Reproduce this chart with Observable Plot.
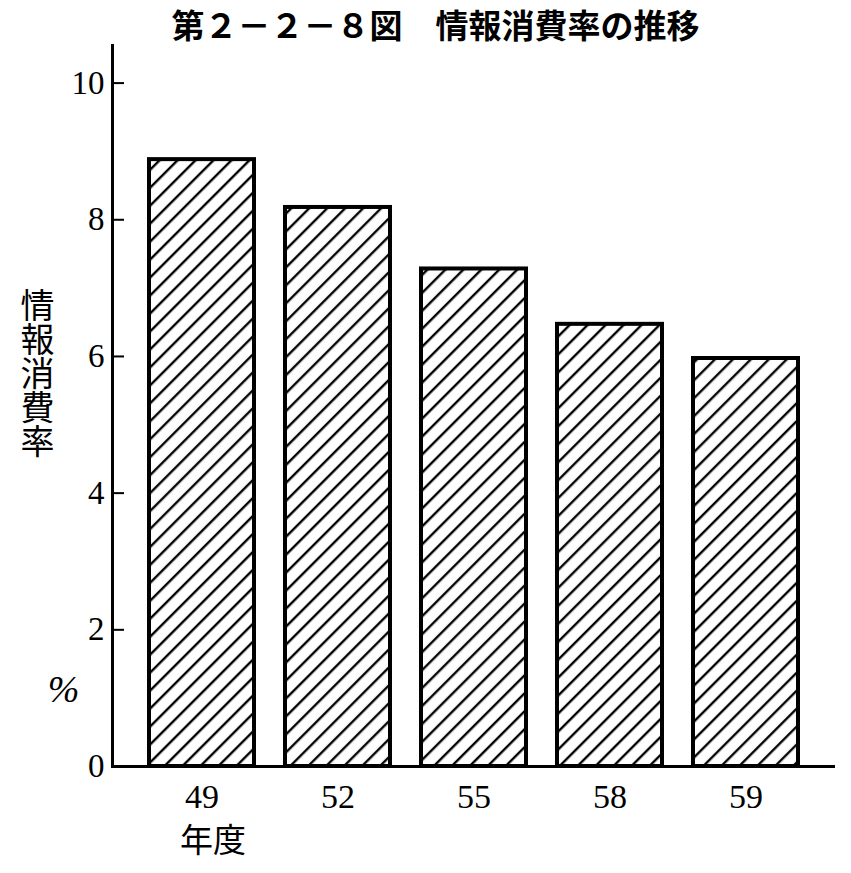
<!DOCTYPE html>
<html>
<head>
<meta charset="utf-8">
<script src="https://cdn.jsdelivr.net/npm/d3@7"></script>
<script src="https://cdn.jsdelivr.net/npm/@observablehq/plot@0.6"></script>
<style>
  body { margin: 0; background: #fff; }
  #title {
    width: 851px; height: 42px; text-align: center;
    font-family: "Noto Sans CJK JP", sans-serif; font-weight: bold;
    font-size: 33px; line-height: 48px; color: #000; overflow: visible;
    padding-left: 20px; box-sizing: border-box;
  }
  #chart svg { display: block; overflow: visible; }
</style>
</head>
<body>
<svg width="0" height="0" style="position:absolute">
  <defs>
    <pattern id="hatch" patternUnits="userSpaceOnUse" width="12.7" height="12.7" patternTransform="rotate(45)">
      <rect width="12.7" height="12.7" fill="#fff"></rect>
      <line x1="6" y1="0" x2="6" y2="12.7" stroke="#000" stroke-width="2.4"></line>
    </pattern>
  </defs>
</svg>
<div id="title"></div>
<div id="chart"></div>
<script>
const titleText = "第２－２－８図　情報消費率の推移";
const years = ["49", "52", "55", "58", "59"];
const rates = [8.88, 8.18, 7.28, 6.47, 5.97];
const yTicks = [0, 2, 4, 6, 8, 10];
const yLabel = "情報消費率";
const unitLabel = "%";
const xUnit = "年度";

document.getElementById("title").textContent = titleText;

const data = years.map((year, i) => ({year, rate: rates[i]}));

const chart = Plot.plot({
  width: 851,
  height: 831,
  marginLeft: 112,
  marginRight: 16,
  marginTop: 3,
  marginBottom: 107,
  style: {fontFamily: "'Liberation Serif', serif", color: "#000", background: "#fff"},
  x: {domain: years, paddingInner: 0.23, paddingOuter: 0.264},
  y: {domain: [0, 10.55]},
  marks: [
    Plot.barY(data, {x: "year", y: "rate", fill: "url(#hatch)", stroke: "#000", strokeWidth: 4}),
    Plot.frame({anchor: "left", stroke: "#000", strokeWidth: 3}),
    Plot.ruleY([0], {stroke: "#000", strokeWidth: 3}),
    Plot.tickY(yTicks, {y: d => d, insetRight: 711, stroke: "#000", strokeWidth: 2}),
    Plot.axisY({ticks: yTicks, tickSize: 0, tickPadding: 8, fontSize: 33, tickFormat: d => String(d), label: null}),
    Plot.axisX({tickSize: 0, tickPadding: 17, fontSize: 34, label: null}),
    Plot.text([yLabel], {
      frameAnchor: "top-left", dx: -75, dy: 243, textAnchor: "start", lineAnchor: "bottom",
      text: d => d, fontSize: 34,
      fontFamily: "'Noto Sans CJK JP', sans-serif", fill: "#000"
    }),
    Plot.text([unitLabel], {
      frameAnchor: "top-left", dx: -49, dy: 644, textAnchor: "middle", lineAnchor: "middle",
      text: d => d, fontSize: 38, fontStyle: "italic", fill: "#000"
    }),
    Plot.text([{year: years[0], label: xUnit}], {
      x: "year", frameAnchor: "bottom", dx: 11, dy: 75, lineAnchor: "middle",
      text: "label", fontSize: 33, fontFamily: "'Noto Sans CJK JP', sans-serif", fill: "#000"
    })
  ]
});
for (const t of chart.querySelectorAll("text")) {
  if (t.textContent === yLabel) {
    t.setAttribute("writing-mode", "vertical-rl");
    t.style.textOrientation = "upright";
  }
}
document.getElementById("chart").appendChild(chart);
</script>
</body>
</html>
